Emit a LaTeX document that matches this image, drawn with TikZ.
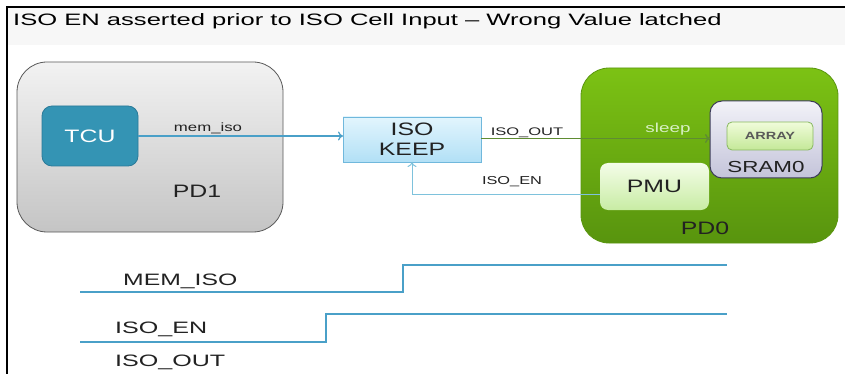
\documentclass[tikz,border=0pt]{standalone}
\usepackage{fontspec}
\setmainfont{Liberation Sans}
\usetikzlibrary{arrows.meta,calc}
\definecolor{wave}{HTML}{4AA0C8}
\definecolor{enc}{HTML}{7EC2DC}
\definecolor{outc}{HTML}{5F8C32}
\definecolor{txt}{HTML}{222222}
\newcommand\hs[2]{\scalebox{#1}[1]{#2}}
\begin{document}
\begin{tikzpicture}[x=1pt,y=-1pt,
  box/.style={minimum width=#1, inner sep=0pt, outer sep=0pt},
  lbl/.style={font=\fontsize{18}{20}\selectfont, text=txt, inner sep=0pt},
  small/.style={font=\fontsize{11}{12}\selectfont, text=txt, inner sep=0pt},
  wlbl/.style={font=\fontsize{16.5}{18}\selectfont, text=txt, inner sep=0pt, anchor=base west},
  sig/.style={draw=wave, line width=1.2pt},
  tip/.style={-{To[length=5pt,width=9pt]}}
]
\useasboundingbox (0,0) rectangle (845,374);
\fill[white] (0,0) rectangle (845,374);
\fill[black!3] (8,8) rectangle (845,45);
\draw[line width=2pt] (7,374) -- (7,7) -- (845,7);
\node[anchor=base west, inner sep=0pt, font=\fontsize{16.5}{18}\selectfont] (title) at (13,25.7) {\hs{1.55}{ISO EN asserted prior to ISO Cell Input -- Wrong Value latched}};

% PD1
\node[box=266pt, minimum height=170pt, rounded corners=30pt, draw=black!65, line width=0.8pt, top color=black!5, bottom color=black!23] (pd1) at (150,147) {};
\node[lbl] (pd1lbl) at (197,191) {\hs{1.38}{PD1}};
\node[box=96pt, minimum height=60pt, rounded corners=10pt, draw={rgb,255:red,42;green,122;blue,152}, line width=0.8pt, fill={rgb,255:red,52;green,148;blue,180}, text=white, font=\fontsize{18}{20}\selectfont] (tcu) at (90,136) {\hs{1.38}{TCU}};

% ISO KEEP
\node[box=138pt, minimum height=45pt, draw={rgb,255:red,112;green,184;blue,220}, line width=0.8pt, top color={rgb,255:red,226;green,245;blue,253}, bottom color={rgb,255:red,178;green,224;blue,246}, align=center, font=\fontsize{18}{20}\selectfont, text=txt] (iso) at (412,139.5) {\hs{1.38}{ISO}\\\hs{1.38}{KEEP}};

% PD0
\node[box=257pt, minimum height=175pt, rounded corners=28pt, draw={rgb,255:red,90;green,150;blue,16}, line width=0.8pt, top color={rgb,255:red,124;green,194;blue,20}, bottom color={rgb,255:red,88;green,148;blue,14}] (pd0) at (709.5,155.5) {};
\node[lbl] (pd0lbl) at (705,228) {\hs{1.38}{PD0}};
\node[box=112pt, minimum height=77pt, rounded corners=12pt, draw={rgb,255:red,60;green,60;blue,88}, line width=1pt, top color={rgb,255:red,242;green,242;blue,248}, bottom color={rgb,255:red,196;green,196;blue,218}] (sram) at (766,139.5) {};
\node[inner sep=0pt, font=\fontsize{16}{18}\selectfont, text=txt] (sramlbl) at (766,167) {\hs{1.4}{SRAM0}};
\node[box=86pt, minimum height=28pt, rounded corners=5pt, draw={rgb,255:red,136;green,184;blue,96}, line width=0.8pt, top color={rgb,255:red,240;green,252;blue,218}, bottom color={rgb,255:red,196;green,232;blue,152}, font=\bfseries\fontsize{10.5}{11}\selectfont, text=black!65] (array) at (770,136) {\hs{1.38}{ARRAY}};
\node[box=109pt, minimum height=47pt, rounded corners=8pt, top color={rgb,255:red,244;green,253;blue,232}, bottom color={rgb,255:red,200;green,236;blue,164}, font=\fontsize{18}{20}\selectfont, text=txt] (pmu) at (654.5,186.5) {\hs{1.38}{PMU}};

% connectors
\draw[tip, draw=wave, line width=1.2pt] (tcu.east) -- (tcu.east -| iso.west);
\node[inner sep=0pt, font=\fontsize{12}{13}\selectfont, text=txt] (memisolbl) at (208,128) {\hs{1.4}{mem\_iso}};
\draw[tip, draw=outc, line width=1.4pt] ($(iso.east)+(0,-1)$) -- ($(sram.west)+(0,-1)$);
\node[small] (isooutlbl) at (527,133) {\hs{1.5}{ISO\_OUT}};
\node[inner sep=0pt, font=\fontsize{13}{14}\selectfont, text={rgb,255:red,216;green,240;blue,196}] (sleeplbl) at (668,129) {\hs{1.45}{sleep}};
\draw[tip, draw=enc, line width=1pt] ($(pmu.west)+(0,7.5)$) -| (iso.south);
\node[inner sep=0pt, font=\fontsize{11.5}{12}\selectfont, text=txt] (isoenlbl) at (512,182) {\hs{1.42}{ISO\_EN}};

% waveforms
\node[wlbl] (wmem) at (123,285) {\hs{1.5}{MEM\_ISO}};
\node[wlbl] (wen) at (115,333) {\hs{1.52}{ISO\_EN}};
\node[wlbl] (wout) at (115,366) {\hs{1.52}{ISO\_OUT}};
\draw[sig] (80,292) -- (403,292) -- (403,265) -- (727,265);
\draw[sig] (80,342) -- (326,342) -- (326,314) -- (727,314);
\end{tikzpicture}
\end{document}
